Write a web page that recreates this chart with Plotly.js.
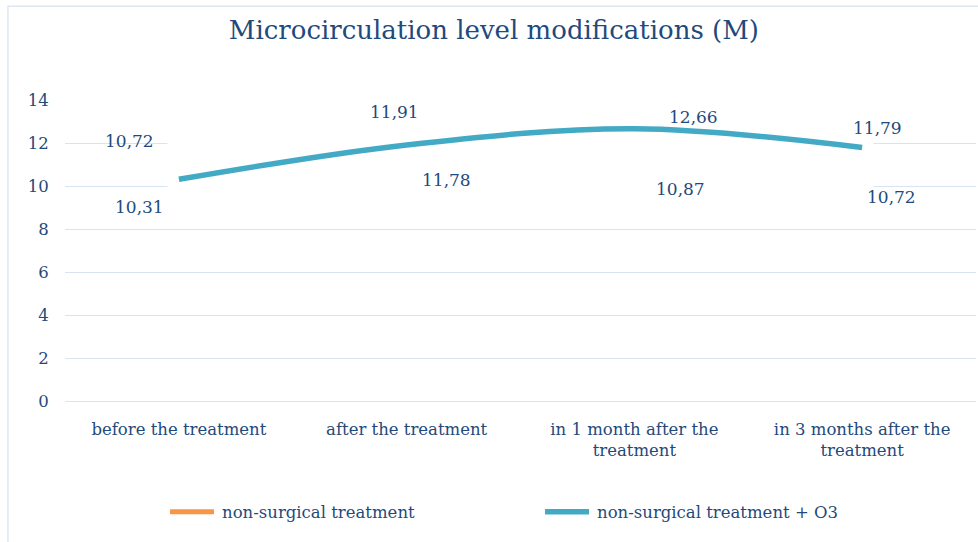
<!DOCTYPE html>
<html><head><meta charset="utf-8">
<script src="https://cdn.plot.ly/plotly-3.0.1.min.js"></script>
<style>html,body{margin:0;padding:0;background:#fff}#c{width:978px;height:542px}</style>
</head><body><div id="c"></div>
<script>
const categories = ["before the treatment", "after the treatment", "in 1 month after the<br>treatment", "in 3 months after the<br>treatment"];
const seriesNames = ["non-surgical treatment", "non-surgical treatment + O3"];
const nonSurgical = [10.72, 11.78, 10.87, 10.72];
const nonSurgicalO3 = [10.31, 11.91, 12.66, 11.79];
const yTicks = [0, 2, 4, 6, 8, 10, 12, 14];

// label offsets (style only, in px)
const o3Offsets = [[-39, -28], [-12, 33], [59, 12], [15, 20]];
const nsOffsets = [[-49, 30], [40, -32], [46, -22], [29, -26]];

const textColor = "#1F4A7C";
const fmt = v => v.toFixed(2).replace(".", ",");

const traces = [
  {x: categories, y: nonSurgical, name: seriesNames[0], type: "scatter", mode: "lines",
   line: {color: "#F79646", width: 5, shape: "spline"}, visible: "legendonly", hoverinfo: "skip"},
  {x: categories, y: nonSurgicalO3, name: seriesNames[1], type: "scatter", mode: "lines",
   line: {color: "#43AAC5", width: 5.5, shape: "spline", smoothing: 1}}
];

const annotations = [];
nonSurgicalO3.forEach((v, i) => annotations.push({x: categories[i], y: v, xref: "x", yref: "y", text: fmt(v),
  showarrow: false, xshift: o3Offsets[i][0], yshift: o3Offsets[i][1], font: {size: 17, color: textColor}}));
nonSurgical.forEach((v, i) => annotations.push({x: categories[i], y: v, xref: "x", yref: "y", text: fmt(v),
  showarrow: false, xshift: nsOffsets[i][0], yshift: nsOffsets[i][1], font: {size: 17, color: textColor}}));

const layout = {
  width: 978, height: 542,
  margin: {l: 65, r: 2, t: 100, b: 141},
  paper_bgcolor: "#fff", plot_bgcolor: "#fff",
  font: {family: "DejaVu Serif", color: textColor, size: 16.5},
  title: {text: "Microcirculation level modifications (M)", font: {size: 26, color: textColor},
          x: 0.505, xanchor: "center", y: 0.945, yanchor: "middle"},
  xaxis: {type: "category", range: [-0.5, 3.5], showgrid: false, zeroline: false, showline: false,
          ticks: "outside", ticklen: 13, tickcolor: "rgba(0,0,0,0)", tickfont: {size: 16.5, color: textColor}},
  yaxis: {range: [0, 14], tickvals: yTicks, showgrid: true, gridcolor: "#D9E4F2", gridwidth: 1,
          zeroline: true, zerolinecolor: "#D9E4F2", zerolinewidth: 1, showline: false,
          ticks: "outside", ticklen: 12, tickcolor: "rgba(0,0,0,0)", tickfont: {size: 16.5, color: textColor}},
  showlegend: true,
  legend: {orientation: "h", x: 0.112, xanchor: "left", y: -0.369, yanchor: "middle",
           entrywidth: 330, entrywidthmode: "pixels", font: {size: 16.5, color: textColor}, itemclick: false, itemdoubleclick: false},
  annotations: annotations,
  shapes: [
    {type: "rect", xref: "x", yref: "y", x0: -0.05, x1: 3.05, y0: 9.3, y1: 13.2, fillcolor: "#fff", line: {width: 0}, layer: "between"},
    {type: "rect", xref: "paper", yref: "paper", x0: -0.0626, x1: 1.03, y0: -0.5, y1: 1.312,
     fillcolor: "rgba(0,0,0,0)", line: {color: "#D6E1EE", width: 1.2}, layer: "above"}
  ]
};

Plotly.newPlot("c", traces, layout, {staticPlot: true, displayModeBar: false}).then(() => {
  document.querySelectorAll(".legend .traces").forEach(e => { e.style.opacity = 1; });
  document.querySelectorAll(".legend .traces .legendlines path").forEach(p => {
    p.setAttribute("d", "M3,0h44");
  });
  document.querySelectorAll(".legend .traces text.legendtext").forEach(t => {
    const x = parseFloat(t.getAttribute("x")) || 0;
    t.setAttribute("x", x + 15);
    t.querySelectorAll("tspan[x]").forEach(s => s.setAttribute("x", (parseFloat(s.getAttribute("x")) || 0) + 15));
  });
});
</script></body></html>
